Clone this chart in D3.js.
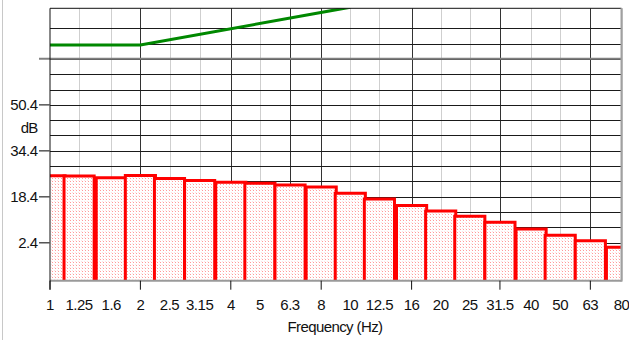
<!DOCTYPE html>
<html>
<head>
<meta charset="utf-8">
<script src="https://cdn.jsdelivr.net/npm/d3@7"></script>
<style>
  body { margin: 0; background: #fff; }
  svg text { font-family: "Liberation Sans", Arial, sans-serif; fill: #111; }
</style>
</head>
<body>
<div id="chart"></div>
<script>
// third-octave bands (nominal), label text and measured levels (dB)
var bandLabels = ["1","1.25","1.6","2","2.5","3.15","4","5","6.3","8","10","12.5","16","20","25","31.5","40","50","63","80"];
var bandFreqs = [1,1.25,1.6,2,2.5,3.15,4,5,6.3,8,10,12.5,16,20,25,31.5,40,50,63,80];
var bandLevels = [25.7,25.6,25.0,25.8,24.8,24.1,23.5,23.1,22.5,21.8,19.6,17.6,15.4,13.5,11.6,9.5,7.2,5.0,3.1,0.8];

// limit curve (green)
var limitFreqs = [1, 2, 10];
var limitLevels = [71.2, 71.2, 84.4];

// axis ticks
var yTickLabels = [2.4, 18.4, 34.4, 50.4];
var yBlankTick = 66.4;
var xTickFreqs = [1, 2, 4, 8, 16, 31.5, 63];
var darkVLines = [2, 4, 6.3, 8, 16, 31.5, 63];

(function () {
  var width = 629,
    height = 340;
  var left = 50, right = 621.5, top = 8.3, bottom = 280.7;

  var svg = d3.select("#chart")
    .append("svg")
    .attr("width", width)
    .attr("height", height);

  var x = d3.scaleLog().domain([1, 80]).range([left, right]);
  var y = d3.scaleLinear().domain([-10.8, 84.0]).range([bottom, top]);

  var defs = svg.append("defs");
  defs.append("clipPath").attr("id", "plot")
    .append("rect")
    .attr("x", left).attr("y", top)
    .attr("width", right - left).attr("height", bottom - top);

  var pat = defs.append("pattern")
    .attr("id", "dots")
    .attr("patternUnits", "userSpaceOnUse")
    .attr("width", 3).attr("height", 3);
  pat.append("rect").attr("width", 3).attr("height", 3).attr("fill", "#fff");
  pat.append("rect").attr("x", 1).attr("y", 1).attr("width", 1).attr("height", 1).attr("fill", "#ff9a9a");
  pat.append("rect").attr("x", 0).attr("y", 0).attr("width", 1).attr("height", 1).attr("fill", "#ffe2e2");

  // window frame at far left
  svg.append("line")
    .attr("x1", 2.5).attr("x2", 2.5).attr("y1", 0).attr("y2", height)
    .attr("stroke", "#c8c8c8");

  // vertical grid
  svg.append("g")
    .selectAll("line")
    .data(bandFreqs.slice(1))
    .enter().append("line")
    .attr("x1", function (d) { return Math.round(x(d)) + 0.5; })
    .attr("x2", function (d) { return Math.round(x(d)) + 0.5; })
    .attr("y1", top).attr("y2", bottom)
    .attr("stroke", function (d) { return darkVLines.indexOf(d) >= 0 ? "#333" : "#cfcfcf"; });

  // horizontal grid every 16/3 dB from 2.4
  var gridVals = d3.range(-2, 15).map(function (k) { return 2.4 + k * 16 / 3; });
  svg.append("g")
    .selectAll("line")
    .data(gridVals)
    .enter().append("line")
    .attr("x1", left).attr("x2", right)
    .attr("y1", function (d) { return Math.round(y(d)) + 0.5; })
    .attr("y2", function (d) { return Math.round(y(d)) + 0.5; })
    .attr("stroke", "#1a1a1a");

  svg.append("line")
    .attr("x1", 39).attr("x2", right)
    .attr("y1", y(yBlankTick)).attr("y2", y(yBlankTick))
    .attr("stroke", "#808080").attr("stroke-width", 2);

  // bars
  var step = Math.pow(2, 1 / 6);
  svg.append("g")
    .attr("clip-path", "url(#plot)")
    .selectAll("path")
    .data(bandFreqs)
    .enter().append("path")
    .attr("d", function (d, i) {
      var x0 = x(d / step), x1 = x(d * step), yt = y(bandLevels[i]);
      return "M" + x0 + "," + (bottom + 2) + "V" + yt + "H" + x1 + "V" + (bottom + 2);
    })
    .attr("fill", "url(#dots)")
    .attr("stroke", "#ff0000")
    .attr("stroke-width", 3);

  // green limit line
  var line = d3.line()
    .x(function (d, i) { return x(limitFreqs[i]); })
    .y(function (d) { return y(d); });
  svg.append("path")
    .datum(limitLevels)
    .attr("clip-path", "url(#plot)")
    .attr("d", line)
    .attr("fill", "none")
    .attr("stroke", "#008800")
    .attr("stroke-width", 3);

  // frame
  svg.append("line").attr("x1", left).attr("x2", right).attr("y1", top).attr("y2", top).attr("stroke", "#111");
  svg.append("line").attr("x1", right).attr("x2", right).attr("y1", top).attr("y2", bottom + 1).attr("stroke", "#a0a0a0").attr("stroke-width", 2);
  svg.append("line").attr("x1", left).attr("x2", right).attr("y1", bottom).attr("y2", bottom).attr("stroke", "#9a9a9a").attr("stroke-width", 2);
  svg.append("line").attr("x1", left).attr("x2", left).attr("y1", top).attr("y2", bottom + 9).attr("stroke", "#111");

  // y axis ticks + labels
  var yAxis = svg.append("g");
  yAxis.selectAll("line")
    .data(yTickLabels)
    .enter().append("line")
    .attr("x1", 39).attr("x2", left)
    .attr("y1", function (d) { return y(d); })
    .attr("y2", function (d) { return y(d); })
    .attr("stroke", "#555").attr("stroke-width", 1.5);
  yAxis.selectAll("text")
    .data(yTickLabels)
    .enter().append("text")
    .attr("x", 37.5)
    .attr("y", function (d) { return y(d) + 5.5; })
    .attr("text-anchor", "end")
    .style("font-size", "15px")
    .style("letter-spacing", "-0.5px")
    .text(function (d) { return d.toFixed(1); });
  yAxis.append("text")
    .attr("x", 37.5)
    .attr("y", y(42.4) + 5.5)
    .attr("text-anchor", "end")
    .style("font-size", "15px")
    .style("letter-spacing", "-0.8px")
    .text("dB");

  // x axis ticks + labels
  var xAxis = svg.append("g");
  xAxis.selectAll("line")
    .data(xTickFreqs)
    .enter().append("line")
    .attr("x1", function (d) { return x(d); })
    .attr("x2", function (d) { return x(d); })
    .attr("y1", bottom).attr("y2", bottom + 9)
    .attr("stroke", "#111");
  xAxis.selectAll("text")
    .data(bandFreqs)
    .enter().append("text")
    .attr("x", function (d) { return x(d); })
    .attr("y", 310)
    .attr("text-anchor", "middle")
    .style("font-size", "15px")
    .style("letter-spacing", "-0.5px")
    .text(function (d, i) { return bandLabels[i]; });

  svg.append("text")
    .attr("x", 335)
    .attr("y", 332)
    .attr("text-anchor", "middle")
    .style("font-size", "15px")
    .style("letter-spacing", "-0.6px")
    .text("Frequency (Hz)");
})();
</script>
</body>
</html>
